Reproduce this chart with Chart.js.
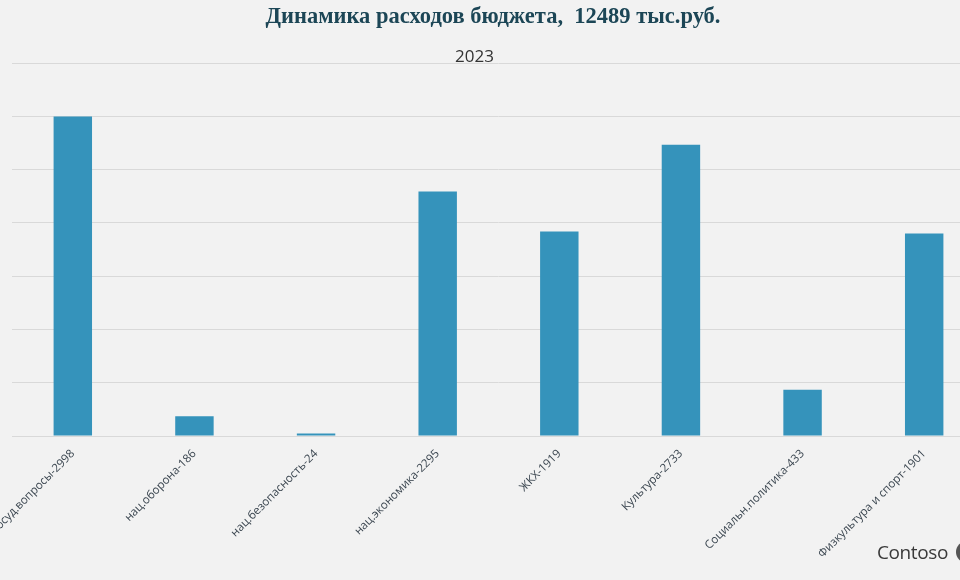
<!DOCTYPE html>
<html>
<head>
<meta charset="utf-8">
<script src="https://cdn.jsdelivr.net/npm/chart.js"></script>
<style>
  html, body { margin: 0; padding: 0; background: #f2f2f2; overflow: hidden; }
  #wrap { position: absolute; left: 0; top: 0; width: 985px; height: 580px; }
  #logo { position: absolute; left: 877px; top: 540px; font: 19px "Open Sans", sans-serif; color: #3a3a3a; letter-spacing: -0.4px; line-height: 24px; }
  #logo2 { position: absolute; left: 956px; top: 541px; width: 22px; height: 22px; border-radius: 50%; background: #555; }
</style>
</head>
<body>
<div id="wrap"><canvas id="myChart"></canvas></div>
<div id="logo">Contoso</div>
<div id="logo2"></div>
<script>
var titleText = "Динамика расходов бюджета,  12489 тыс.руб.";
var subtitleText = "2023";
var categories = [
  "Общегосуд.вопросы-2998",
  "нац.оборона-186",
  "нац.безопасность-24",
  "нац.экономика-2295",
  "ЖКХ-1919",
  "Культура-2733",
  "Социальн.политика-433",
  "Физкультура и спорт-1901",
];
var values = [2998, 186, 24, 2295, 1919, 2733, 433, 1901];
var barColor = "#3593bb";

// title + subtitle drawn by hand: the original title font is a tight serif
var headerPlugin = {
  id: "header",
  afterDraw: function (chart) {
    var ctx = chart.ctx;
    ctx.save();
    ctx.textAlign = "center";
    ctx.textBaseline = "alphabetic";
    ctx.fillStyle = "#1c4656";
    ctx.font = "bold 24px 'Liberation Serif'";
    ctx.fillText(titleText, 493, 23, 455);
    ctx.fillStyle = "#333333";
    ctx.font = "17px 'Open Sans'";
    ctx.fillText(subtitleText, 474.5, 62);
    ctx.restore();
  },
};

new Chart("myChart", {
  type: "bar",
  data: {
    labels: categories,
    datasets: [
      {
        label: subtitleText,
        backgroundColor: barColor,
        data: values,
        categoryPercentage: 1,
        barPercentage: 0.316,
      },
    ],
  },
  plugins: [headerPlugin],
  options: {
    responsive: true,
    maintainAspectRatio: false,
    animation: false,
    layout: { padding: { left: 12, right: 0, top: 63, bottom: 0 } },
    plugins: {
      legend: { display: false },
      tooltip: { enabled: false },
      title: { display: false },
    },
    scales: {
      x: {
        grid: { display: false },
        border: { display: true, color: "#d9d9d9" },
        ticks: {
          minRotation: 45,
          maxRotation: 45,
          color: "#3b4650",
          font: { family: "Open Sans", size: 11.5 },
        },
        afterFit: function (scale) {
          scale.paddingLeft = 0;
          scale.paddingRight = 0;
          scale.height = 144;
        },
      },
      y: {
        min: 0,
        max: 3500,
        ticks: { display: false, stepSize: 500 },
        border: { display: false },
        grid: { color: "#d9d9d9", drawTicks: false },
        afterFit: function (scale) {
          scale.width = 0;
        },
      },
    },
  },
});
</script>
</body>
</html>
